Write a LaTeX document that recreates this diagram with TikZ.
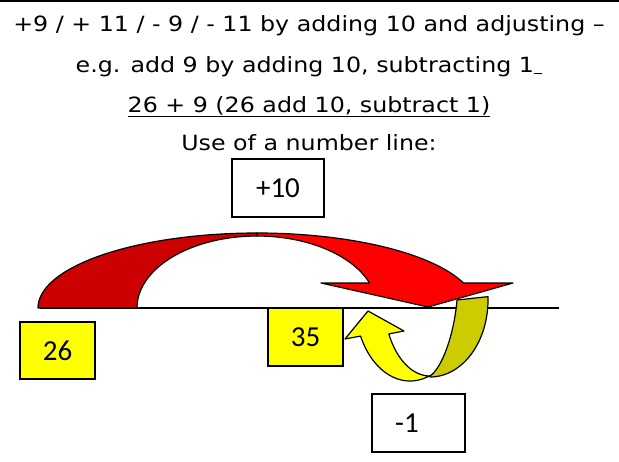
\documentclass[tikz,border=0pt]{standalone}
\usepackage{fontspec}
\usepackage{graphicx}
\newfontfamily\hfont{DejaVu Sans}
\newfontfamily\bfont{Carlito}
\definecolor{redA}{HTML}{CC0000}
\definecolor{redB}{HTML}{FF0000}
\definecolor{yelA}{HTML}{FFFF00}
\definecolor{yelB}{HTML}{CCCC00}
\newcommand{\hsx}[1]{\scalebox{1.13}[1]{#1}}
\tikzset{
  hd/.style={anchor=base, inner sep=0pt, font=\hfont\fontsize{21}{25}\selectfont},
  numbox/.style={draw=black, line width=1.3pt, inner sep=0pt, font=\bfont\fontsize{29}{32}\selectfont},
  shapeline/.style={draw=black, line width=1.2pt, line join=round}
}
\begin{document}
\begin{tikzpicture}[x=1pt, y=-1pt]
\useasboundingbox (0,0) rectangle (619,461);
% top rule
\coordinate (tl) at (0,1.2);
\coordinate (tr) at (619,1.2);
\draw[line width=2.4pt] (tl) -- (tr);
% heading
\node[hd] (l1) at (309,31) {\hsx{+9 / + 11 / - 9 / - 11 by adding 10 and adjusting –}};
\node[hd] (l2) at (309,72) {\hsx{e.g. add 9 by adding 10, subtracting 1\underline{\hspace{0.35em}}}};
\node[hd] (l3) at (309,112) {\hsx{\underline{26 + 9 (26 add 10, subtract 1)}}};
\node[hd] (l4) at (309,150) {\hsx{Use of a number line:}};
% number line
\coordinate (nl) at (40,308);
\coordinate (nr) at (559,308);
\draw[line width=1.2pt] (nl) -- (nr);
% boxes
\node[numbox, minimum width=92pt, minimum height=58pt] (p10) at (278,188) {+10};
\node[numbox, fill=yelA, minimum width=75pt, minimum height=57pt] (n26) at (57.5,350.5) {26};
\node[numbox, fill=yelA, minimum width=75pt, minimum height=58pt] (n35) at (305.5,337) {35};
\node[numbox, minimum width=93pt, minimum height=58pt] (m1) at (418.5,423) {-1\kern23pt};
% red curved arrow: back band
\path[shapeline, fill=redA]
  plot[variable=\t, domain=180:90, samples=50] ({257+219*cos(\t)},{308-75*sin(\t)})
  -- plot[variable=\t, domain=90:180, samples=50] ({257+120*cos(\t)},{308-72*sin(\t)})
  -- cycle;
% red curved arrow: front band with head
\path[shapeline, fill=redB]
  plot[variable=\t, domain=90:19.47, samples=50] ({257+219*cos(\t)},{308-75*sin(\t)})
  -- (513,283) -- (428,307) -- (321,283)
  -- plot[variable=\t, domain=20.32:90, samples=50] ({257+120*cos(\t)},{308-72*sin(\t)})
  -- cycle;
% yellow curved arrow: back band
\path[shapeline, fill=yelB]
  plot[variable=\t, domain=-2.5:90, samples=50] ({430+58*cos(\t)},{300+77*sin(\t)})
  -- (430,376) .. controls (442,368) and (454,335) .. (457,300)
  -- cycle;
% yellow curved arrow: front band with head
\path[shapeline, fill=yelA]
  plot[variable=\t, domain=68.7:154, samples=50] ({410+55*cos(\t)},{301+80*sin(\t)})
  -- (345,339) -- (368,311) -- (404,331)
  -- plot[variable=\t, domain=153.5:90, samples=50] ({430+46*cos(\t)},{300+76*sin(\t)})
  -- cycle;
\end{tikzpicture}
\end{document}
